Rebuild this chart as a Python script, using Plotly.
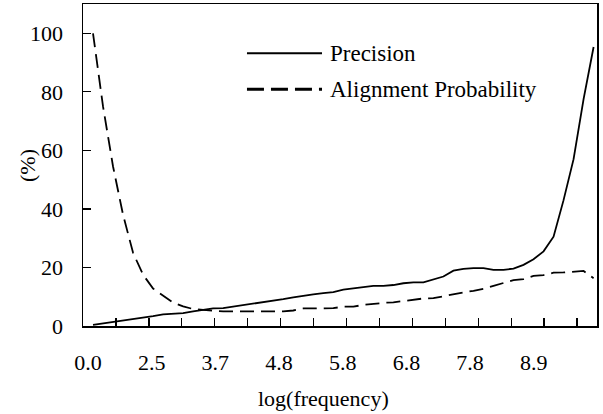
import plotly.graph_objects as go

# ---- data ----
bins = list(range(1, 52))  # ordered frequency bins
precision = [0.4, 0.9, 1.4, 1.8, 2.2, 2.8, 3.4, 4.0, 4.1, 4.4,
             5.0, 5.6, 6.0, 6.1, 6.6, 7.2, 7.7, 8.0, 8.5, 9.2,
             9.8, 10.4, 10.8, 11.2, 11.6, 12.4, 12.9, 13.2, 13.7, 13.7,
             14.0, 14.6, 14.9, 14.9, 15.9, 16.9, 18.9, 19.5, 19.8, 19.8,
             19.2, 19.2, 19.6, 20.9, 22.8, 25.5, 30.5, 43.0, 57.0, 77.5,
             95.3]
alignment = [100, 75, 54.5, 38, 25, 17.5, 12.8, 10.3, 8.0, 6.7,
             5.8, 5.5, 5.2, 5.0, 5.0, 5.0, 5.0, 5.0, 5.0, 5.0,
             5.3, 6.0, 6.0, 6.0, 6.1, 6.6, 6.6, 7.2, 7.6, 7.9,
             8.1, 8.5, 9.0, 9.4, 9.5, 10.2, 10.9, 11.5, 12.0, 12.7,
             13.7, 14.7, 15.7, 16.0, 17.1, 17.4, 18.2, 18.3, 18.5, 18.8,
             16.3]
x_tick_labels = ["0.0", "2.5", "3.7", "4.8", "5.8", "6.8", "7.8", "8.9"]
y_ticks = [0, 20, 40, 60, 80, 100]
series_names = ["Precision", "Alignment Probability"]

FONT = "Liberation Serif, Times New Roman, serif"
label_pos = [0.5 + 6.36 * k for k in range(len(x_tick_labels))]
X_RANGE = [0, 51.34]
Y_RANGE = [0, 110]
tick_step = 3.29
tick_marks = [tick_step * k for k in range(1, 16)]

fig = go.Figure()
fig.add_trace(go.Scatter(x=bins, y=precision, mode="lines", name=series_names[0],
                         line=dict(color="black", width=1.8), showlegend=False,
                         hoverinfo="skip"))
fig.add_trace(go.Scatter(x=bins, y=alignment, mode="lines", name=series_names[1],
                         line=dict(color="black", width=1.8, dash="14px,7px"),
                         showlegend=False, hoverinfo="skip"))

# manual legend (long sample lines like the original)
leg_y = [0.847, 0.735]
fig.add_shape(type="line", xref="paper", yref="paper", x0=0.319, x1=0.465,
              y0=leg_y[0], y1=leg_y[0], line=dict(color="black", width=1.8))
fig.add_shape(type="line", xref="paper", yref="paper", x0=0.319, x1=0.465,
              y0=leg_y[1], y1=leg_y[1], line=dict(color="black", width=3, dash="17px,7px"))
for name, yy in zip(series_names, leg_y):
    fig.add_annotation(text=name, xref="paper", yref="paper", x=0.4767, y=yy,
                       xanchor="left", yanchor="middle", showarrow=False,
                       font=dict(family=FONT, size=23, color="black"))

# axis titles
fig.add_annotation(text="log(frequency)", xref="paper", yref="paper", x=0.468, y=-0.224,
                   xanchor="center", yanchor="middle", showarrow=False,
                   font=dict(family=FONT, size=22, color="black"))
fig.add_annotation(text="(%)", xref="paper", yref="paper", x=-0.109, y=0.5,
                   xanchor="center", yanchor="middle", showarrow=False, textangle=-90,
                   font=dict(family=FONT, size=22, color="black"))

fig.update_layout(
    width=603, height=414,
    margin=dict(l=83, r=6, t=4, b=88, autoexpand=False),
    paper_bgcolor="white", plot_bgcolor="white",
    font=dict(family=FONT, size=22, color="black"),
    hovermode=False,
    # primary axes: frame and inside tick marks
    xaxis=dict(range=X_RANGE, tickmode="array", tickvals=tick_marks,
               showticklabels=False, ticks="inside", ticklen=8,
               tickwidth=1.3, tickcolor="black", showgrid=False, zeroline=False,
               showline=True, mirror=True, linecolor="black", linewidth=1.5,
               automargin=False),
    yaxis=dict(range=Y_RANGE, tickmode="array", tickvals=y_ticks,
               showticklabels=False, ticks="inside", ticklen=8,
               tickwidth=1.3, tickcolor="black", showgrid=False, zeroline=False,
               showline=True, mirror=True, linecolor="black", linewidth=1.5,
               automargin=False),
    # overlay axes: tick labels only
    xaxis2=dict(range=X_RANGE, overlaying="x", anchor="y2", side="bottom",
                tickmode="array", tickvals=label_pos, ticktext=x_tick_labels,
                ticks="", showgrid=False, zeroline=False, showline=False,
                ticklabelstandoff=21, automargin=False),
    yaxis2=dict(range=Y_RANGE, overlaying="y", anchor="x2", side="left",
                tickmode="array", tickvals=y_ticks, ticks="",
                showgrid=False, zeroline=False, showline=False,
                ticklabelstandoff=19, automargin=False),
)
# an invisible helper trace keeps the label axes (x2, y2) active
fig.add_trace(go.Scatter(x=[X_RANGE[0]], y=[None], xaxis="x2", yaxis="y2", mode="lines",
                         showlegend=False, hoverinfo="skip"))

fig.write_html("out.html", config={"displayModeBar": False, "staticPlot": True},
               post_script="document.body.style.margin='0px';document.body.style.overflow='hidden';")
